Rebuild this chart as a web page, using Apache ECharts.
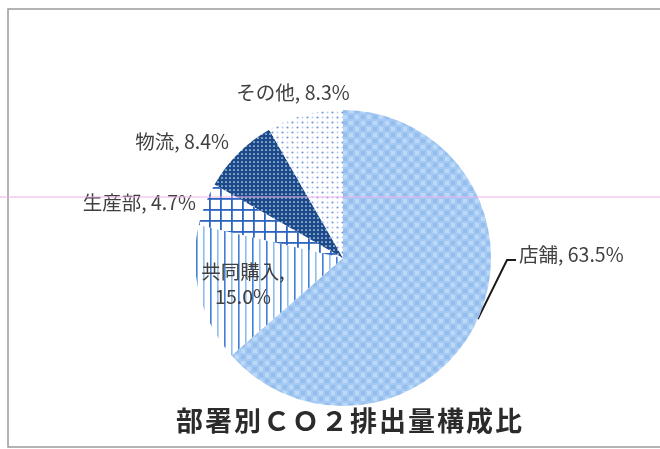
<!DOCTYPE html>
<html>
<head>
<meta charset="utf-8">
<script src="https://cdn.jsdelivr.net/npm/echarts@6/dist/echarts.min.js"></script>
<style>
  html, body { margin: 0; padding: 0; background: #ffffff; }
  #chart { width: 660px; height: 449px; }
</style>
</head>
<body>
<div id="chart"></div>
<script>
// Department breakdown of CO2 emissions (percent)
const departments = ['店舗', '共同購入', '生産部', '物流', 'その他'];
const shares = [63.5, 15.0, 4.7, 8.4, 8.3];
const chartTitle = '部署別ＣＯ２排出量構成比';

// Small tiled canvases used as hatch / texture fills for each slice
function tile(w, h, draw) {
  const c = document.createElement('canvas');
  c.width = w; c.height = h;
  const ctx = c.getContext('2d');
  draw(ctx, w, h);
  return { image: c, repeat: 'repeat' };
}

const fills = [
  // light blue checked texture
  tile(12, 12, (ctx) => {
    ctx.fillStyle = '#a4c9f2'; ctx.fillRect(0, 0, 12, 12);
    ctx.fillStyle = '#bcd9f8';
    ctx.fillRect(1, 1, 4, 4); ctx.fillRect(7, 7, 4, 4);
    ctx.fillStyle = '#94bdee';
    ctx.fillRect(7, 1, 4, 4); ctx.fillRect(1, 7, 4, 4);
  }),
  // vertical stripes
  tile(14, 4, (ctx) => {
    ctx.fillStyle = '#ffffff'; ctx.fillRect(0, 0, 14, 4);
    ctx.fillStyle = '#3f7fd6'; ctx.fillRect(0, 0, 1.6, 4);
    ctx.fillStyle = '#8fbdf0'; ctx.fillRect(7, 0, 1.6, 4);
  }),
  // square grid
  tile(11, 11, (ctx) => {
    ctx.fillStyle = '#ffffff'; ctx.fillRect(0, 0, 11, 11);
    ctx.fillStyle = '#2c64c0';
    ctx.fillRect(0, 0, 1.8, 11); ctx.fillRect(0, 0, 11, 1.8);
  }),
  // dark blue with white dots
  tile(4, 4, (ctx) => {
    ctx.fillStyle = '#1b4a8a'; ctx.fillRect(0, 0, 4, 4);
    ctx.fillStyle = '#dfe9f8';
    ctx.beginPath(); ctx.arc(2, 2, 0.85, 0, Math.PI * 2); ctx.fill();
  }),
  // sparse blue dots on white
  tile(10, 10, (ctx) => {
    ctx.fillStyle = '#ffffff'; ctx.fillRect(0, 0, 10, 10);
    ctx.fillStyle = '#7496da';
    ctx.beginPath(); ctx.arc(2.5, 2.5, 1.1, 0, Math.PI * 2); ctx.fill();
    ctx.beginPath(); ctx.arc(7.5, 7.5, 1.1, 0, Math.PI * 2); ctx.fill();
    ctx.fillStyle = '#b8caef';
    ctx.beginPath(); ctx.arc(7.5, 2.5, 0.9, 0, Math.PI * 2); ctx.fill();
    ctx.beginPath(); ctx.arc(2.5, 7.5, 0.9, 0, Math.PI * 2); ctx.fill();
  })
];

// Label anchor spots (left/right/center aligned) for each slice
const labelSpots = [
  { x: 519, y: 255, align: 'left' },
  { x: 243, y: 284, align: 'center' },
  { x: 196, y: 203, align: 'right' },
  { x: 229, y: 142, align: 'right' },
  { x: 293, y: 93, align: 'center' }
];

const pieData = departments.map((name, i) => ({
  name: name,
  value: shares[i],
  itemStyle: { color: fills[i] },
  labelLine: { show: i === 0 }
}));

// Title drawn one character per rich segment so the glyphs get a little tracking
const titleText = chartTitle.split('').map((ch) => '{c|' + ch + '}').join('');

const chart = echarts.init(document.getElementById('chart'), null, { renderer: 'canvas' });

chart.setOption({
  animation: false,
  backgroundColor: '#ffffff',
  title: {
    text: titleText,
    left: 170,
    top: 402,
    textStyle: {
      rich: {
        c: {
          fontFamily: '"Noto Sans CJK JP", sans-serif',
          fontSize: 27,
          fontWeight: 'bold',
          color: '#2b2b2b',
          padding: [0, 1, 0, 1]
        }
      }
    }
  },
  graphic: [
    {
      type: 'rect',
      shape: { x: 8, y: 9, width: 700, height: 438 },
      style: { fill: 'none', stroke: '#9a9a9a', lineWidth: 1.5 },
      z: 0
    },
    {
      type: 'line',
      shape: { x1: 0, y1: 197, x2: 660, y2: 197 },
      style: { stroke: '#f2b0ec', lineWidth: 1 },
      z: 100
    }
  ],
  series: [{
    type: 'pie',
    center: [343, 258],
    radius: 148,
    startAngle: 90,
    clockwise: true,
    avoidLabelOverlap: false,
    data: pieData,
    itemStyle: { borderWidth: 0 },
    label: {
      show: true,
      position: 'outside',
      fontFamily: '"Noto Sans CJK JP", sans-serif',
      fontSize: 19.5,
      color: '#404040',
      lineHeight: 25,
      formatter: (p) => p.dataIndex === 1
        ? p.name + ',\n' + p.value.toFixed(1) + '%'
        : p.name + ', ' + p.value.toFixed(1) + '%'
    },
    labelLine: {
      show: true,
      length: 10,
      length2: 10,
      lineStyle: { color: '#1a1a1a', width: 2 }
    },
    labelLayout: function (params) {
      const s = labelSpots[params.dataIndex];
      const out = { x: s.x, y: s.y, align: s.align, verticalAlign: 'middle' };
      if (params.dataIndex === 0 && params.labelLinePoints) {
        const start = params.labelLinePoints[0];
        out.labelLinePoints = [
          [start[0], start[1]],
          [s.x - 12, s.y + 5],
          [s.x - 3, s.y + 5]
        ];
      }
      return out;
    }
  }]
});
</script>
</body>
</html>
